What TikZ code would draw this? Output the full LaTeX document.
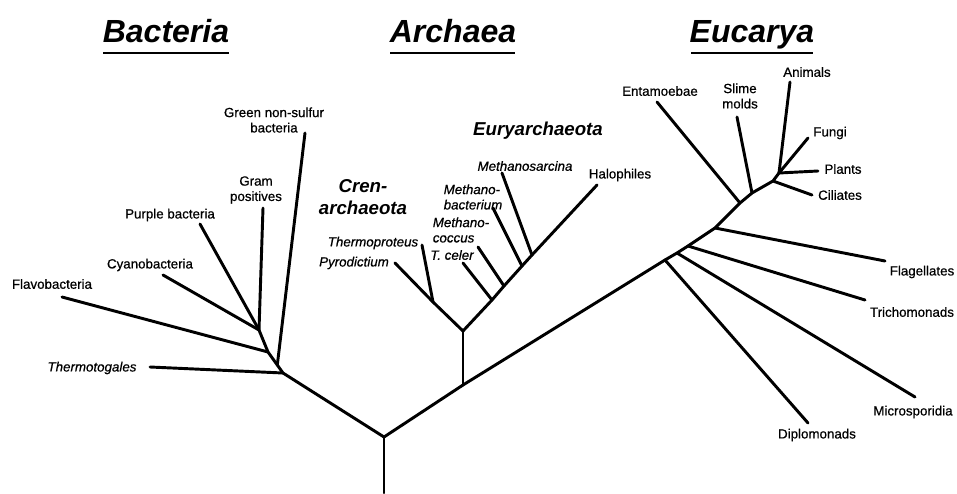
\documentclass[tikz,border=0pt]{standalone}
\usepackage{fontspec}
\setmainfont{Liberation Sans}
\newfontfamily\labfont[FakeBold=0.6]{Liberation Sans}
\usetikzlibrary{calc}
\begin{document}
\begin{tikzpicture}[x=0.75pt,y=-0.75pt,
  br/.style={line width=2.2pt, line cap=round, line join=round},
  ul/.style={line width=2pt},
  lab/.style={font=\labfont\fontsize{10}{11.5}\selectfont, inner sep=0pt, align=center},
  ilab/.style={font=\labfont\fontsize{10}{11.5}\selectfont\itshape, inner sep=0pt, align=left},
  grp/.style={font=\fontsize{14}{16}\selectfont\bfseries\itshape, inner sep=0pt, align=center},
  ttl/.style={font=\fontsize{24}{26}\selectfont\bfseries\itshape, inner sep=0pt, anchor=base}]
\useasboundingbox (0,0) rectangle (957,493);

% titles
\node[ttl] (tB) at (166,42) {Bacteria};
\node[ttl] (tA) at (453,42) {Archaea};
\node[ttl] (tE) at (752,42) {Eucarya};
\coordinate (uB1) at (103,53); \coordinate (uB2) at (229,53);
\coordinate (uA1) at (390,53); \coordinate (uA2) at (515,53);
\coordinate (uE1) at (691,53); \coordinate (uE2) at (813,53);
\draw[ul] (uB1) -- (uB2);
\draw[ul] (uA1) -- (uA2);
\draw[ul] (uE1) -- (uE2);

% root
\coordinate (r0) at (384,493);
\coordinate (r) at (384,437);

% Bacteria
\coordinate (b1) at (283,373);
\coordinate (bf) at (268,352);
\coordinate (bc) at (259,330);
\coordinate (bg) at ($(b1)!0.38!(bf)$);
\coordinate (tThermotog) at (150,367);
\coordinate (tFlavo) at (62,297);
\coordinate (tCyano) at (163,275);
\coordinate (tPurple) at (200,224);
\coordinate (tGram) at (263,208);
\coordinate (tGreen) at (305,133);

% Archaea
\coordinate (a0) at (463,385);
\coordinate (a1) at (463,331);
\coordinate (c1) at (433,302);
\coordinate (tPyro) at (395,263);
\coordinate (tThermop) at (422,245);
\coordinate (e1) at (492,300);
\coordinate (e2) at (504,286);
\coordinate (e3) at (522,266);
\coordinate (e4) at (532,255);
\coordinate (tHalo) at (597,185);
\coordinate (tTceler) at (463,263);
\coordinate (tMcoccus) at (478,247);
\coordinate (tMbact) at (493,208);
\coordinate (tMsarc) at (502,173);

% Eucarya
\coordinate (u1) at (665,260);
\coordinate (u2) at (677,253);
\coordinate (u3) at (688,246);
\coordinate (u4) at (715,228);
\coordinate (u5) at (740,203);
\coordinate (u6) at (752,193);
\coordinate (u7) at (773,181);
\coordinate (u8) at (779,173);
\coordinate (tDiplo) at (808,423);
\coordinate (tMicro) at (915,397);
\coordinate (tTricho) at (865,300);
\coordinate (tFlag) at (885,261);
\coordinate (tEntam) at (657,102);
\coordinate (tSlime) at (737,117);
\coordinate (tCiliates) at (812,195);
\coordinate (tAnimals) at (790,82);
\coordinate (tFungi) at (808,138);
\coordinate (tPlants) at (818,171);

% branches
\draw[br] (r0) -- (r);
\draw[br] (r) -- (b1) -- (bf) -- (bc);
\draw[br] (b1) -- (tThermotog);
\draw[br] (bf) -- (tFlavo);
\draw[br] (bc) -- (tCyano);
\draw[br] (bc) -- (tPurple);
\draw[br] (bc) -- (tGram);
\draw[br] (bg) -- (tGreen);

\draw[br] (r) -- (a0) -- (u1) -- (u2) -- (u3) -- (u4) -- (u5) -- (u6) -- (u7) -- (u8);
\draw[br] (a0) -- (a1);
\draw[br] (a1) -- (c1) -- (tPyro);
\draw[br] (c1) -- (tThermop);
\draw[br] (a1) -- (e1) -- (e2) -- (e3) -- (e4) -- (tHalo);
\draw[br] (e1) -- (tTceler);
\draw[br] (e2) -- (tMcoccus);
\draw[br] (e3) -- (tMbact);
\draw[br] (e4) -- (tMsarc);

\draw[br] (u1) -- (tDiplo);
\draw[br] (u2) -- (tMicro);
\draw[br] (u3) -- (tTricho);
\draw[br] (u4) -- (tFlag);
\draw[br] (u5) -- (tEntam);
\draw[br] (u6) -- (tSlime);
\draw[br] (u7) -- (tCiliates);
\draw[br] (u8) -- (tAnimals);
\draw[br] (u8) -- (tFungi);
\draw[br] (u8) -- (tPlants);

% labels: Bacteria
\node[lab] (lGreen) at (274,120) {Green non-sulfur\\bacteria};
\node[lab] (lGram) at (256,190) {Gram\\positives};
\node[lab] (lPurple) at (170,215) {Purple bacteria};
\node[lab] (lCyano) at (150,265) {Cyanobacteria};
\node[lab] (lFlavo) at (52,284) {Flavobacteria};
\node[ilab] (lThermotog) at (92,368) {Thermotogales};

% labels: Archaea
\node[grp] (lCren) at (363,197) {Cren-\\archaeota};
\node[grp] (lEury) at (538,131) {Euryarchaeota};
\node[ilab] (lMsarc) at (525,166) {Methanosarcina};
\node[ilab] (lMbact) at (473,197) {Methano-\\bacterium};
\node[ilab] (lMcoccus) at (461,230) {Methano-\\coccus};
\node[ilab] (lTceler) at (452,255) {T. celer};
\node[ilab] (lThermop) at (373,243) {Thermoproteus};
\node[ilab] (lPyro) at (354,263) {Pyrodictium};
\node[lab] (lHalo) at (620,175) {Halophiles};

% labels: Eucarya
\node[lab] (lEntam) at (660,91) {Entamoebae};
\node[lab] (lSlime) at (740,96) {Slime\\molds};
\node[lab] (lAnimals) at (807,72) {Animals};
\node[lab] (lFungi) at (830,133) {Fungi};
\node[lab] (lPlants) at (843,169) {Plants};
\node[lab] (lCiliates) at (840,195) {Ciliates};
\node[lab] (lFlag) at (922,272) {Flagellates};
\node[lab] (lTricho) at (912,312) {Trichomonads};
\node[lab] (lMicro) at (913,412) {Microsporidia};
\node[lab] (lDiplo) at (817,435) {Diplomonads};
\end{tikzpicture}
\end{document}
